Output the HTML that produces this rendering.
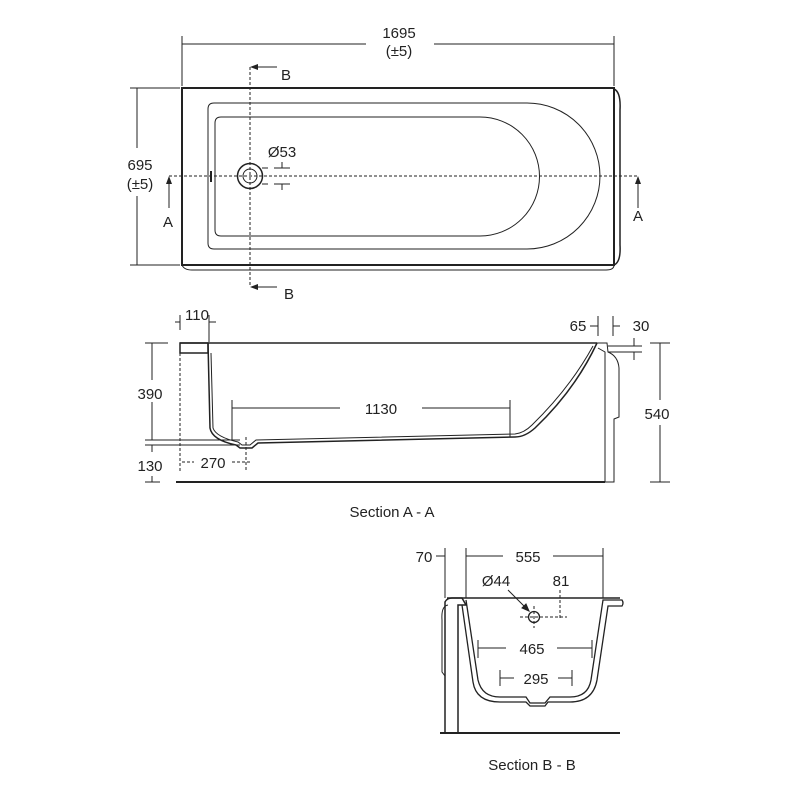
<!DOCTYPE html>
<html><head><meta charset="utf-8"><style>
html,body{margin:0;padding:0;background:#fff;}
svg{display:block;}
text{font-family:"Liberation Sans",sans-serif;font-size:15px;fill:#222;}
</style></head><body>
<svg width="800" height="800" viewBox="0 0 800 800" xmlns="http://www.w3.org/2000/svg">
<g stroke="#222" fill="none" stroke-width="1">
<!-- PLAN -->
<line x1="182" y1="44" x2="366" y2="44"/><line x1="434" y1="44" x2="614" y2="44"/>
<line x1="182" y1="36" x2="182" y2="86"/><line x1="614" y1="36" x2="614" y2="86"/>
<line x1="137" y1="88" x2="137" y2="148"/><line x1="137" y1="196" x2="137" y2="265"/>
<line x1="130" y1="88" x2="180" y2="88"/><line x1="130" y1="265" x2="180" y2="265"/>
<rect x="182" y="88" width="432" height="177" stroke-width="2"/>
<path d="M182 265 Q184 270 192 270 L606 270 Q614 270 614 265" />
<path d="M614 89 Q621 92 620 110 L620 245 Q621 262 614 265" stroke-width="1.5"/>
<path d="M214 103 L527 103 A73 73 0 0 1 527 249 L214 249 Q208 249 208 243 L208 109 Q208 103 214 103 Z"/>
<path d="M221 117 L480 117 A59.5 59.5 0 0 1 480 236 L221 236 Q215 236 215 230 L215 123 Q215 117 221 117 Z"/>
<circle cx="250" cy="176" r="12.5" stroke-width="1.5"/><circle cx="250" cy="176" r="7"/>
<line x1="211" y1="171" x2="211" y2="182" stroke-width="2"/>
<line x1="169" y1="176" x2="638" y2="176" stroke-dasharray="3,2"/>
<line x1="250" y1="67" x2="250" y2="287" stroke-dasharray="3,2"/>
<line x1="256" y1="67" x2="277" y2="67"/><line x1="256" y1="287" x2="277" y2="287"/>
<line x1="262" y1="168" x2="268" y2="168"/><line x1="262" y1="184" x2="268" y2="184"/>
<line x1="274" y1="168" x2="290" y2="168"/><line x1="282" y1="162" x2="282" y2="168"/>
<line x1="274" y1="184" x2="290" y2="184"/><line x1="282" y1="184" x2="282" y2="190"/>
<line x1="169" y1="182" x2="169" y2="208"/><line x1="638" y1="182" x2="638" y2="208"/>
<!-- SECTION A-A -->
<line x1="180" y1="343" x2="597" y2="343" stroke-width="1.5"/>
<line x1="176" y1="482" x2="605" y2="482" stroke-width="2"/>
<path d="M180 343 L180 353 L208 353 L208 343 Z" stroke-width="1.5"/>
<path d="M208 343 L210 428 Q212 440 236 445 L240 448 L252 448 L258 443 L515 437 Q525 437 535 428 Q575 390 597 343" stroke-width="1.5"/>
<path d="M211 353 L213 428 Q216 437 238 442 L242 445 L250 445 L256 440 L515 434 Q524 433 532 425 Q570 388 593 346" />
<path d="M597 343 L607 343 L608 352 Q618 356 619 368 L619 417 L614 419 L614 482 L605 482 L605 352 L598 348"/>
<line x1="180" y1="353" x2="180" y2="472" stroke-dasharray="3,2"/>
<line x1="246" y1="437" x2="246" y2="470" stroke-dasharray="3,2"/>
<line x1="175" y1="322" x2="180" y2="322"/><line x1="209" y1="322" x2="216" y2="322"/>
<line x1="209" y1="315" x2="209" y2="342"/><line x1="180" y1="315" x2="180" y2="330"/>
<line x1="182" y1="462" x2="194" y2="462" stroke-dasharray="3,2"/><line x1="232" y1="462" x2="250" y2="462" stroke-dasharray="3,2"/>
<line x1="152" y1="343" x2="152" y2="380"/><line x1="152" y1="402" x2="152" y2="440"/>
<line x1="145" y1="343" x2="168" y2="343"/><line x1="145" y1="440" x2="240" y2="440"/>
<line x1="145" y1="445" x2="240" y2="445"/><line x1="152" y1="445" x2="152" y2="452"/>
<line x1="152" y1="476" x2="152" y2="482"/><line x1="145" y1="482" x2="160" y2="482"/>
<line x1="232" y1="400" x2="232" y2="440"/><line x1="232" y1="408" x2="340" y2="408"/>
<line x1="422" y1="408" x2="510" y2="408"/><line x1="510" y1="400" x2="510" y2="437"/>
<line x1="598" y1="316" x2="598" y2="336"/><line x1="590" y1="326" x2="598" y2="326"/>
<line x1="613" y1="316" x2="613" y2="336"/><line x1="613" y1="326" x2="620" y2="326"/>
<line x1="608" y1="346" x2="642" y2="346"/><line x1="608" y1="352" x2="642" y2="352"/>
<line x1="634" y1="338" x2="634" y2="346"/><line x1="634" y1="352" x2="634" y2="360"/>
<line x1="650" y1="343" x2="670" y2="343"/><line x1="650" y1="482" x2="670" y2="482"/>
<line x1="660" y1="343" x2="660" y2="400"/><line x1="660" y1="425" x2="660" y2="482"/>
<!-- SECTION B-B -->
<line x1="445" y1="548" x2="445" y2="598"/><line x1="436" y1="556" x2="445" y2="556"/>
<line x1="466" y1="548" x2="466" y2="598"/><line x1="466" y1="556" x2="503" y2="556"/>
<line x1="553" y1="556" x2="603" y2="556"/><line x1="603" y1="548" x2="603" y2="598"/>
<line x1="447" y1="598" x2="620" y2="598" stroke-width="1.5"/>
<path d="M445 602 Q447 598 452 598 L462 598 L466 605 L458 605 L458 733 L445 733 Z" stroke-width="1.5"/>
<path d="M448 605 Q441 606 442 620 L442 672 L445 676"/>
<path d="M466 600 L478 680 Q482 697 500 697 L526 697 L530 703 L545 703 L550 697 L570 697 Q588 697 591 680 L603 600 L622 600 Q624 603 622 606 L608 606 L597 680 Q593 702 570 702 L548 702 L545 706 L530 706 L526 702 L500 702 Q476 702 473 682 L462 605" stroke-width="1.3"/>
<line x1="440" y1="733" x2="620" y2="733" stroke-width="2"/>
<circle cx="534" cy="617" r="5.5" stroke-width="1.3"/>
<line x1="520" y1="617" x2="567" y2="617" stroke-dasharray="3,2"/>
<line x1="534" y1="606" x2="534" y2="628" stroke-dasharray="3,2"/>
<line x1="560" y1="590" x2="560" y2="620" stroke-dasharray="3,2"/>
<line x1="508" y1="590" x2="529" y2="611"/><path d="M529 611 L522 608 L526 604 Z" fill="#222"/>
<line x1="478" y1="640" x2="478" y2="658"/><line x1="478" y1="648" x2="506" y2="648"/>
<line x1="557" y1="648" x2="592" y2="648"/><line x1="592" y1="640" x2="592" y2="658"/>
<line x1="500" y1="670" x2="500" y2="686"/><line x1="500" y1="678" x2="514" y2="678"/>
<line x1="558" y1="678" x2="572" y2="678"/><line x1="572" y1="670" x2="572" y2="686"/>
</g>
<g fill="#222">
<path d="M250 67 L258 64 L258 70 Z"/><path d="M250 287 L258 284 L258 290 Z"/>
<path d="M169 176 L166 184 L172 184 Z"/><path d="M638 176 L635 184 L641 184 Z"/>
</g>
<text x="399" y="38" text-anchor="middle">1695</text>
<text x="399" y="56" text-anchor="middle">(±5)</text>
<text x="140" y="170" text-anchor="middle">695</text>
<text x="140" y="189" text-anchor="middle">(±5)</text>
<text x="286" y="80" text-anchor="middle">B</text>
<text x="289" y="299" text-anchor="middle">B</text>
<text x="168" y="227" text-anchor="middle">A</text>
<text x="638" y="221" text-anchor="middle">A</text>
<text x="282" y="157" text-anchor="middle">Ø53</text>
<text x="197" y="320" text-anchor="middle">110</text>
<text x="578" y="331" text-anchor="middle">65</text>
<text x="641" y="331" text-anchor="middle">30</text>
<text x="150" y="399" text-anchor="middle">390</text>
<text x="150" y="471" text-anchor="middle">130</text>
<text x="213" y="468" text-anchor="middle">270</text>
<text x="381" y="414" text-anchor="middle">1130</text>
<text x="657" y="419" text-anchor="middle">540</text>
<text x="392" y="517" text-anchor="middle">Section A - A</text>
<text x="424" y="562" text-anchor="middle">70</text>
<text x="528" y="562" text-anchor="middle">555</text>
<text x="496" y="586" text-anchor="middle">Ø44</text>
<text x="561" y="586" text-anchor="middle">81</text>
<text x="532" y="654" text-anchor="middle">465</text>
<text x="536" y="684" text-anchor="middle">295</text>
<text x="532" y="770" text-anchor="middle">Section B - B</text>
</svg>
</body></html>
